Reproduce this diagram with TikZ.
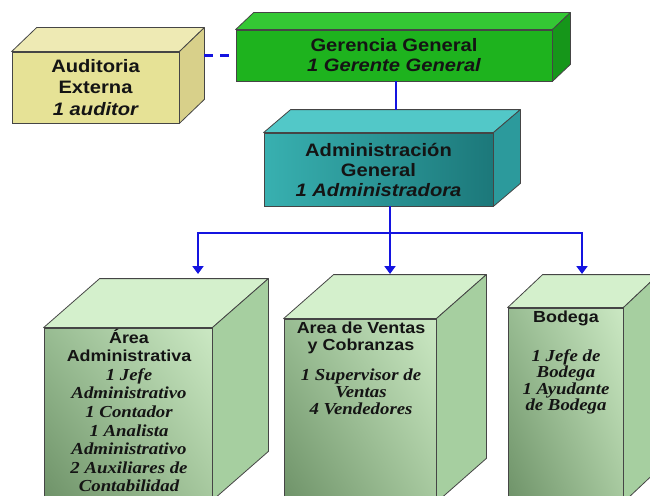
\documentclass[tikz,border=0pt]{standalone}
\usepackage{fontspec}
\usetikzlibrary{calc,arrows.meta,shadings}
\newfontfamily\hsans[FakeStretch=1.12]{Liberation Sans}
\newfontfamily\hserif[FakeStretch=1.12]{Liberation Serif}
\newcommand\headfont{\hsans\bfseries\fontsize{16}{18.6}\selectfont}
\newcommand\staffsans{\hsans\bfseries\itshape}
\newcommand\staffserif{\hserif\bfseries\itshape\fontsize{16.8}{18.6}\selectfont}

\definecolor{edge}{HTML}{454545}
\definecolor{wire}{HTML}{1414E0}
% auditoria (khaki)
\definecolor{audF}{HTML}{E6E296}\definecolor{audT}{HTML}{EEEAB4}\definecolor{audS}{HTML}{D8D08A}
% gerencia (green)
\definecolor{gerF}{HTML}{1EB31E}\definecolor{gerT}{HTML}{34C834}\definecolor{gerS}{HTML}{16961A}
% administracion (teal)
\definecolor{admFa}{HTML}{38B0B0}\definecolor{admFb}{HTML}{1C787A}
\definecolor{admT}{HTML}{52C8C8}\definecolor{admS}{HTML}{2C9A9C}
% departments (pale green)
\definecolor{depUL}{HTML}{98BC92}\definecolor{depUR}{HTML}{CBE8C3}
\definecolor{depLL}{HTML}{6E9268}\definecolor{depLR}{HTML}{A6C89E}
\definecolor{depT}{HTML}{D4F0CC}\definecolor{depS}{HTML}{A6CFA0}

% top and right faces of a box whose front face is node #1
\newcommand\cubefaces[5]{%
  \filldraw[fill=#4,draw=edge,line width=0.8pt,line join=round]
    (#1.north west) -- ++(#2,#3) -- ($(#1.north east)+(#2,#3)$) -- (#1.north east) -- cycle;
  \filldraw[fill=#5,draw=edge,line width=0.8pt,line join=round]
    (#1.north east) -- ++(#2,#3) -- ($(#1.south east)+(#2,#3)$) -- (#1.south east) -- cycle;
}

\begin{document}
\begin{tikzpicture}[x=1pt,y=-1pt,
  face/.style={draw=edge,line width=0.8pt,inner sep=0pt,align=center,text=black!92},
  deptext/.style={align=center,text=black!92,inner sep=0pt},
  conn/.style={draw=wire,line width=2.7pt},
  arrow/.style={conn,-{Triangle[length=8pt,width=11pt]}}]
\useasboundingbox (0,0) rectangle (650,495);
\clip (0,0) rectangle (650,495);

% ---- Auditoria Externa
\node[face,fill=audF,minimum width=167pt,minimum height=71pt,
      font=\fontsize{18}{21.5}\selectfont] (aud) at (95.5,87.5)
  {\hsans\bfseries Auditoria\\\hsans\bfseries Externa\\\staffsans 1 auditor};
\cubefaces{aud}{25}{-24}{audT}{audS}
\coordinate (audside) at ($(aud.north east)+(25,0)$);

% ---- Gerencia General
\node[face,fill=gerF,minimum width=316pt,minimum height=51pt,
      font=\fontsize{18}{20}\selectfont] (ger) at (394,55.5)
  {\hsans\bfseries Gerencia General\\\staffsans 1 Gerente General};
\cubefaces{ger}{18}{-17}{gerT}{gerS}

% ---- Administracion General
\node[face,left color=admFa,right color=admFb,minimum width=229pt,minimum height=73pt,
      font=\fontsize{18}{20}\selectfont] (adm) at (378.5,169.5)
  {\hsans\bfseries Administración\\\hsans\bfseries General\\\staffsans 1 Administradora};
\cubefaces{adm}{27}{-23}{admT}{admS}
\coordinate (admtop) at ($(adm.north west)+(27,-23)$);

% ---- Departments
\node[face,upper left=depUL,upper right=depUR,lower left=depLL,lower right=depLR,
      minimum width=168pt,minimum height=172pt] (dA) at (128,414) {};
\cubefaces{dA}{56}{-49}{depT}{depS}
\node[face,upper left=depUL,upper right=depUR,lower left=depLL,lower right=depLR,
      minimum width=152pt,minimum height=183pt] (dB) at (360,410.5) {};
\cubefaces{dB}{50}{-44}{depT}{depS}
\node[face,upper left=depUL,upper right=depUR,lower left=depLL,lower right=depLR,
      minimum width=115pt,minimum height=194pt] (dC) at (565.5,405) {};
\cubefaces{dC}{35}{-33}{depT}{depS}

\node[deptext,font=\fontsize{16}{18.6}\selectfont] (tA) at (129,410.5) {%
  \headfont Área\\\headfont Administrativa\\
  \staffserif 1 Jefe\\\staffserif Administrativo\\\staffserif 1 Contador\\
  \staffserif 1 Analista\\\staffserif Administrativo\\
  \staffserif 2 Auxiliares de\\\staffserif Contabilidad};
\node[deptext,font=\fontsize{16}{17}\selectfont] (tB) at (361,368) {%
  \headfont Area de Ventas\\\headfont y Cobranzas\\[13pt]
  \staffserif 1 Supervisor de\\\staffserif Ventas\\\staffserif 4 Vendedores};
\node[deptext,font=\fontsize{16}{16.5}\selectfont] (tC) at (566,362.5) {%
  \headfont Bodega\\[22.5pt]
  \staffserif 1 Jefe de\\\staffserif Bodega\\\staffserif 1 Ayudante\\\staffserif de Bodega};

% ---- Connectors
\coordinate (gx) at (396,0);
\coordinate (hub) at (390,233);
\coordinate (tipA) at (198,274);
\coordinate (tipB) at (390,274);
\coordinate (tipC) at (582,274);
\draw[conn,dash pattern=on 9pt off 7pt] (audside |- ger.west) -- (ger.west);
\draw[conn] (ger.south -| gx) -- (admtop -| gx);
\draw[conn] (hub |- adm.south) -- (hub);
\draw[arrow] (hub) -| (tipA);
\draw[arrow] (hub) -- (tipB);
\draw[arrow] (hub) -| (tipC);
\end{tikzpicture}
\end{document}
